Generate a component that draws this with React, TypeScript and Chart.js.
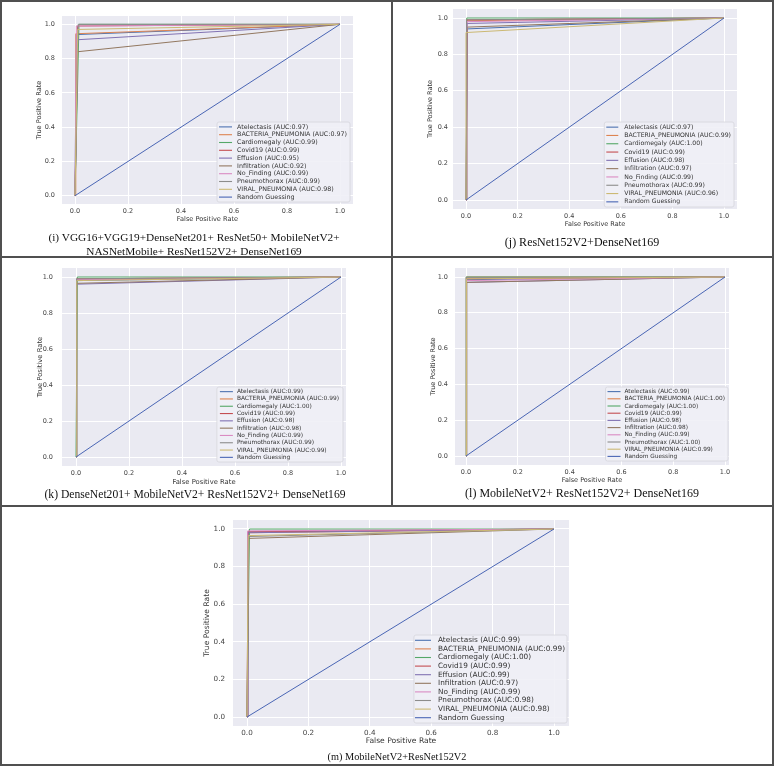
import React, { useEffect, useRef } from 'react';
import { Chart, registerables } from 'chart.js';
Chart.register(...registerables);

// ---------- DATA ----------
const CLASSES = ['Atelectasis', 'BACTERIA_PNEUMONIA', 'Cardiomegaly', 'Covid19', 'Effusion', 'Infiltration', 'No_Finding', 'Pneumothorax', 'VIRAL_PNEUMONIA'];
const RANDOM_LABEL = 'Random Guessing';
const RANDOM_X = [0, 1];
const RANDOM_Y = [0, 1];
const AXIS_TICKS = [0, 0.2, 0.4, 0.6, 0.8, 1.0];

// (i)
const I_FPR = [0.005, 0.003, 0.015, 0.01, 0.01, 0.01, 0.005, 0.012, 0.01];
const I_TPR = [0.94, 0.945, 1.0, 0.99, 0.91, 0.84, 0.99, 1.0, 0.97];
const I_AUC = ['0.97', '0.97', '0.99', '0.99', '0.95', '0.92', '0.99', '0.99', '0.98'];
// (j)
const J_FPR = [0.005, 0.002, 0.003, 0.003, 0.004, 0.005, 0.003, 0.002, 0.0];
const J_TPR = [0.94, 0.985, 1.0, 0.99, 0.97, 0.95, 0.98, 0.99, 0.92];
const J_AUC = ['0.97', '0.99', '1.00', '0.99', '0.98', '0.97', '0.99', '0.99', '0.96'];
// (k)
const K_FPR = [0.003, 0.002, 0.005, 0.002, 0.002, 0.003, 0.002, 0.002, 0.003];
const K_TPR = [0.98, 0.985, 1.0, 0.99, 0.96, 0.965, 0.985, 0.99, 0.98];
const K_AUC = ['0.99', '0.99', '1.00', '0.99', '0.98', '0.98', '0.99', '0.99', '0.99'];
// (l)
const L_FPR = [0.002, 0.001, 0.001, 0.002, 0.002, 0.003, 0.002, 0.001, 0.002];
const L_TPR = [0.985, 1.0, 1.0, 0.99, 0.97, 0.97, 0.98, 0.998, 0.99];
const L_AUC = ['0.99', '1.00', '1.00', '0.99', '0.98', '0.98', '0.99', '1.00', '0.99'];
// (m)
const M_FPR = [0.003, 0.003, 0.008, 0.004, 0.003, 0.006, 0.002, 0.005, 0.004];
const M_TPR = [0.985, 0.98, 1.0, 0.985, 0.98, 0.95, 0.99, 0.96, 0.965];
const M_AUC = ['0.99', '0.99', '1.00', '0.99', '0.99', '0.97', '0.99', '0.98', '0.98'];

const CAPTION_I = ['(i) VGG16+VGG19+DenseNet201+ ResNet50+ MobileNetV2+', 'NASNetMobile+ ResNet152V2+ DenseNet169'];
const CAPTION_J = ['(j) ResNet152V2+DenseNet169'];
const CAPTION_K = ['(k) DenseNet201+ MobileNetV2+ ResNet152V2+ DenseNet169'];
const CAPTION_L = ['(l) MobileNetV2+ ResNet152V2+ DenseNet169'];
const CAPTION_M = ['(m) MobileNetV2+ResNet152V2'];

// ---------- STYLE ----------
const COLORS = ['#4C72B0', '#DD8452', '#55A868', '#C44E52', '#8172B3', '#937860', '#DA8BC3', '#8C8C8C', '#CCB974'];
const RANDOM_COLOR = '#4a66b5';
const FONT = '"DejaVu Sans", sans-serif';

type Panel = {
  fpr: number[]; tpr: number[]; auc: string[]; caption: string[];
  L: number; R: number; T: number; B: number;
  px0: number; px1: number; py0: number; py1: number;
  yTitleX: number; xTitleY: number; xTickY: number; yTickR: number;
  tickSize: number; titleSize: number;
  leg: { size: number; pitch: number; padX: number; padY: number; handle: number; gap: number; insetR: number; insetB: number; };
  capX: number; capY: number; capLH: number; capSize: number;
};

const PANELS: Panel[] = [
  {
    fpr: I_FPR, tpr: I_TPR, auc: I_AUC, caption: CAPTION_I,
    L: 62, R: 353, T: 16, B: 204, px0: 75, px1: 340, py0: 195.7, py1: 24.3,
    yTitleX: 39, xTitleY: 219, xTickY: 211, yTickR: 55, tickSize: 6.5, titleSize: 6.6,
    leg: { size: 6.35, pitch: 7.8, padX: 2, padY: 1, handle: 13, gap: 5, insetR: 3, insetB: 2 },
    capX: 194, capY: 238, capLH: 13.5, capSize: 11.3,
  },
  {
    fpr: J_FPR, tpr: J_TPR, auc: J_AUC, caption: CAPTION_J,
    L: 453, R: 737, T: 9, B: 209, px0: 466, px1: 724, py0: 200, py1: 18,
    yTitleX: 430, xTitleY: 224, xTickY: 216, yTickR: 448, tickSize: 6.5, titleSize: 6.5,
    leg: { size: 6.17, pitch: 8.3, padX: 2, padY: 1, handle: 12, gap: 6, insetR: 3, insetB: 2 },
    capX: 582, capY: 243, capLH: 13.5, capSize: 12,
  },
  {
    fpr: K_FPR, tpr: K_TPR, auc: K_AUC, caption: CAPTION_K,
    L: 62, R: 346, T: 268, B: 466, px0: 76, px1: 341, py0: 457, py1: 277,
    yTitleX: 40, xTitleY: 482, xTickY: 473, yTickR: 53, tickSize: 6.5, titleSize: 6.8,
    leg: { size: 5.9, pitch: 7.3, padX: 3, padY: 1, handle: 13, gap: 4, insetR: 3, insetB: 4 },
    capX: 195, capY: 495, capLH: 13.5, capSize: 11.6,
  },
  {
    fpr: L_FPR, tpr: L_TPR, auc: L_AUC, caption: CAPTION_L,
    L: 455, R: 729, T: 268, B: 465, px0: 466, px1: 725, py0: 456, py1: 277,
    yTitleX: 433, xTitleY: 480, xTickY: 472, yTickR: 448, tickSize: 6.5, titleSize: 6.5,
    leg: { size: 5.8, pitch: 7.2, padX: 2, padY: 1, handle: 13, gap: 4, insetR: 1, insetB: 4 },
    capX: 582, capY: 494, capLH: 13.5, capSize: 12,
  },
  {
    fpr: M_FPR, tpr: M_TPR, auc: M_AUC, caption: CAPTION_M,
    L: 233, R: 569, T: 520, B: 726, px0: 247, px1: 554, py0: 717, py1: 529,
    yTitleX: 207, xTitleY: 741, xTickY: 733, yTickR: 225, tickSize: 7.2, titleSize: 7.6,
    leg: { size: 7.33, pitch: 8.6, padX: 1, padY: 1, handle: 16, gap: 7, insetR: 2, insetB: 3 },
    capX: 397, capY: 757, capLH: 13.5, capSize: 10.3,
  },
];

const bgPlugin = {
  id: 'plotBg',
  beforeDraw(chart: any) {
    const { ctx, chartArea: a } = chart;
    ctx.save();
    ctx.fillStyle = '#EAEAF2';
    ctx.fillRect(a.left, a.top, a.right - a.left, a.bottom - a.top);
    ctx.restore();
  },
};

const legendPlugin = {
  id: 'innerLegend',
  afterDatasetsDraw(chart: any, _args: any, opts: any) {
    const { ctx, chartArea: a } = chart;
    const items = chart.data.datasets.map((d: any) => ({ label: d.label, color: d.borderColor }));
    ctx.save();
    ctx.font = `${opts.size}px ${FONT}`;
    const maxW = Math.max(...items.map((i: any) => ctx.measureText(i.label).width));
    const w = opts.padX * 2 + opts.handle + opts.gap + maxW + 1;
    const h = opts.padY * 2 + opts.pitch * items.length;
    const x0 = a.right - opts.insetR - w;
    const y0 = a.bottom - opts.insetB - h;
    ctx.beginPath();
    ctx.roundRect(x0, y0, w, h, 2);
    ctx.fillStyle = 'rgba(240,240,246,0.9)';
    ctx.fill();
    ctx.strokeStyle = '#D6D6DC';
    ctx.lineWidth = 0.8;
    ctx.stroke();
    items.forEach((it: any, i: number) => {
      const cy = y0 + opts.padY + opts.pitch * (i + 0.5);
      ctx.beginPath();
      ctx.strokeStyle = it.color;
      ctx.lineWidth = 1.1;
      ctx.moveTo(x0 + opts.padX, cy);
      ctx.lineTo(x0 + opts.padX + opts.handle, cy);
      ctx.stroke();
      ctx.fillStyle = '#333';
      ctx.textBaseline = 'middle';
      ctx.textAlign = 'left';
      ctx.fillText(it.label, x0 + opts.padX + opts.handle + opts.gap, cy);
    });
    ctx.restore();
  },
};

function RocPanel({ p }: { p: Panel }) {
  const ref = useRef<HTMLCanvasElement>(null);
  const cl = p.L - 40, cr = p.R + 2, ct = p.T - 4, cb = p.B + 32;
  const w = cr - cl, h = cb - ct;
  useEffect(() => {
    const xmin = (p.L - p.px0) / (p.px1 - p.px0);
    const xmax = (p.R - p.px0) / (p.px1 - p.px0);
    const ymin = (p.py0 - p.B) / (p.py0 - p.py1);
    const ymax = (p.py0 - p.T) / (p.py0 - p.py1);
    const lhTick = p.tickSize * 1.2;
    const lhTitle = p.titleSize * 1.2;
    const n = CLASSES.length + 1;
    const datasets: any[] = CLASSES.map((c, i) => ({
      label: `${c} (AUC:${p.auc[i]})`,
      data: [{ x: 0, y: 0 }, { x: p.fpr[i], y: p.tpr[i] }, { x: 1, y: 1 }],
      borderColor: COLORS[i],
      backgroundColor: COLORS[i],
      showLine: true, pointRadius: 0, borderWidth: 1, tension: 0, order: n - i,
    }));
    datasets.push({
      label: RANDOM_LABEL,
      data: RANDOM_X.map((x, i) => ({ x, y: RANDOM_Y[i] })),
      borderColor: RANDOM_COLOR, backgroundColor: RANDOM_COLOR,
      showLine: true, pointRadius: 0, borderWidth: 1, tension: 0, order: 1,
    });
    const tickCfg = (axis: any) => { axis.ticks = AXIS_TICKS.map((v) => ({ value: v })); };
    const chart = new Chart(ref.current!, {
      type: 'scatter',
      data: { datasets },
      plugins: [bgPlugin, legendPlugin],
      options: {
        animation: false,
        responsive: false,
        maintainAspectRatio: false,
        layout: { padding: { left: 0, top: p.T - ct, right: cr - p.R, bottom: 0 } },
        plugins: {
          legend: { display: false },
          tooltip: { enabled: false },
          innerLegend: p.leg,
        } as any,
        scales: {
          x: {
            type: 'linear', min: xmin, max: xmax,
            afterBuildTicks: tickCfg,
            afterFit: (s: any) => { s.height = cb - p.B; s.paddingLeft = 0; s.paddingRight = 0; s.paddingTop = 0; s.paddingBottom = 0; },
            grid: { color: '#FFFFFF', lineWidth: 1, drawTicks: false },
            border: { display: false },
            ticks: {
              padding: p.xTickY - p.B - lhTick / 2, color: '#444',
              font: { family: FONT, size: p.tickSize },
              callback: (v: any) => Number(v).toFixed(1),
            },
            title: {
              display: true, text: 'False Positive Rate', color: '#333',
              font: { family: FONT, size: p.titleSize },
              padding: { top: 0, bottom: cb - p.xTitleY - lhTitle / 2 },
            },
          },
          y: {
            type: 'linear', min: ymin, max: ymax,
            afterBuildTicks: tickCfg,
            afterFit: (s: any) => { s.width = p.L - cl; s.paddingLeft = 0; s.paddingRight = 0; s.paddingTop = 0; s.paddingBottom = 0; },
            grid: { color: '#FFFFFF', lineWidth: 1, drawTicks: false },
            border: { display: false },
            ticks: {
              padding: p.L - p.yTickR, color: '#444',
              font: { family: FONT, size: p.tickSize },
              callback: (v: any) => Number(v).toFixed(1),
            },
            title: {
              display: true, text: 'True Positive Rate', color: '#333',
              font: { family: FONT, size: p.titleSize },
              padding: { top: p.yTitleX - cl - lhTitle / 2, bottom: 0 },
            },
          },
        },
      } as any,
    });
    return () => chart.destroy();
  }, []);
  return (
    <>
      <canvas ref={ref} width={w} height={h} style={{ position: 'absolute', left: cl, top: ct, width: w, height: h }} />
      <div style={{
        position: 'absolute', left: p.capX - 200, width: 400, top: p.capY - p.capLH / 2,
        textAlign: 'center', fontFamily: '"Liberation Serif", serif', fontSize: p.capSize, lineHeight: `${p.capLH}px`, color: '#111', whiteSpace: 'nowrap',
      }}>
        {p.caption.map((c, i) => <div key={i}>{c}</div>)}
      </div>
    </>
  );
}

const LINE = '#505050';
function HLine({ x, y, w }: { x: number; y: number; w: number }) {
  return <div style={{ position: 'absolute', left: x, top: y, width: w, height: 2, background: LINE }} />;
}
function VLine({ x, y, h }: { x: number; y: number; h: number }) {
  return <div style={{ position: 'absolute', left: x, top: y, width: 2, height: h, background: LINE }} />;
}

export default function App() {
  return (
    <div style={{ position: 'absolute', left: 0, top: 0, width: 776, height: 767, background: '#fff', overflow: 'hidden' }}>
      <HLine x={0} y={0} w={774} />
      <HLine x={0} y={256} w={774} />
      <HLine x={0} y={505} w={774} />
      <HLine x={0} y={764} w={774} />
      <VLine x={0} y={0} h={766} />
      <VLine x={772} y={0} h={766} />
      <VLine x={391} y={0} h={506} />
      {PANELS.map((p, i) => <RocPanel key={i} p={p} />)}
    </div>
  );
}
